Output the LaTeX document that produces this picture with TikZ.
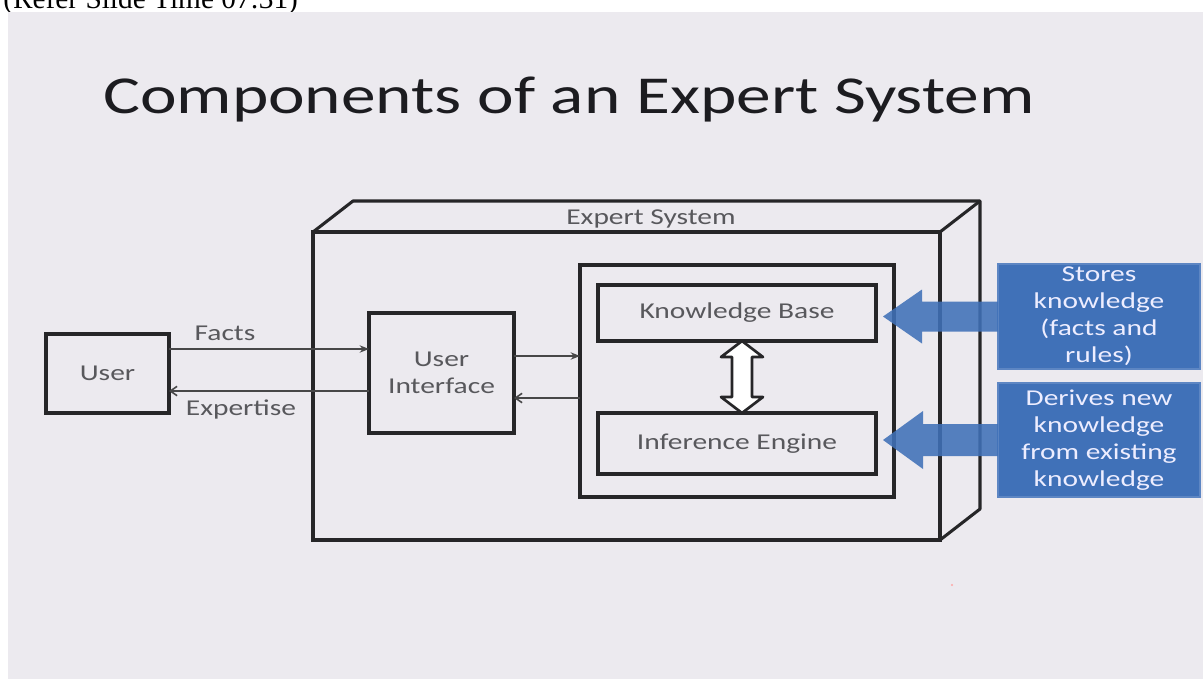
\documentclass[tikz,border=0pt]{standalone}
\usepackage{fontspec}
\setmainfont{Carlito}[FakeStretch=1.3]
\newfontfamily\captionserif{Liberation Serif}
\usetikzlibrary{arrows.meta,calc}

\definecolor{slidebg}{RGB}{236,234,239}
\definecolor{boxline}{RGB}{38,38,40}
\definecolor{labelgray}{RGB}{88,88,92}
\definecolor{titleink}{RGB}{28,28,32}
\definecolor{calloutblue}{RGB}{64,113,184}

\begin{document}
\begin{tikzpicture}[x=0.75pt,y=-0.75pt,
  box/.style={draw=boxline, line width=2.3pt, outer sep=0pt, inner sep=0pt,
    align=center, text=labelgray, font=\fontsize{17}{20.4}\selectfont},
  frame3d/.style={draw=boxline, line width=2.3pt, line join=round},
  lbl/.style={inner sep=0pt, text=labelgray, font=\fontsize{17}{20.4}\selectfont},
  flow/.style={draw=boxline!85, line width=1.2pt},
  fwd/.style={flow, -{Stealth[length=7pt,width=5.5pt]}},
  back/.style={flow, -{Straight Barb[length=5pt,width=7pt]}},
  callout/.style={fill=calloutblue, draw=calloutblue!85!white, line width=0.8pt,
    inner sep=0pt, outer sep=0pt, align=center, text=white!93!blue,
    font=\fontsize{17}{20.25}\selectfont},
  bluearrow/.style={fill=calloutblue, fill opacity=0.88}
]
\useasboundingbox (0,0) rectangle (1203,679);

% caption strip above the slide
\node[anchor=base west, inner sep=0pt, font=\captionserif\fontsize{22}{26}\selectfont]
  (refer) at (3,8.5) {(Refer Slide Time 07:31)};
\fill[slidebg] (8,12) rectangle (1203,679);

% title
\node[anchor=base, inner sep=0pt, text=titleink, font=\fontsize{40}{48}\selectfont]
  (title) at (569,113) {Components of an Expert System};

% the expert system drawn as a 3D box
\node[box, minimum width=470.25pt, minimum height=231pt] (esf) at (626.5,386) {};
\draw[frame3d] (esf.north west) -- ++(40,-31) coordinate (bnw) -- ++(627,0) coordinate (bne)
  -- ++(0,308) coordinate (bse) -- (esf.south east);
\draw[frame3d] (esf.north east) -- (bne);
\node[lbl] (eslabel) at (651,219) {Expert System};

% user and user interface
\node[box, minimum width=92.25pt, minimum height=59.25pt] (user) at (107.5,373.5) {User};
\node[box, minimum width=108.75pt, minimum height=90pt] (ui) at (441.5,373) {User\\Interface};

% core: knowledge base and inference engine
\node[box, minimum width=235.5pt, minimum height=174pt] (core) at (737,381) {};
\node[box, minimum width=208.5pt, minimum height=42pt] (kb) at (737,313) {Knowledge Base};
\node[box, minimum width=208.5pt, minimum height=45.75pt] (ie) at (737,443.5) {Inference Engine};

% hollow two-way arrow between them
\draw[frame3d, fill=white, line width=2pt]
  ($(kb.south)+(5,0)$) -- ++(21,16) -- ++(-11,0) -- ++(0,40) -- ++(11,0)
  -- ++(-21,16) -- ++(-21,-16) -- ++(11,0) -- ++(0,-40) -- ++(-11,0) -- cycle;

% message flows
\coordinate (factsY) at (0,349);
\coordinate (expY) at (0,391);
\coordinate (inY) at (0,356);
\coordinate (outY) at (0,398);
\draw[fwd] (user.east |- factsY) -- (ui.west |- factsY);
\draw[back] (ui.west |- expY) -- (user.east |- expY);
\draw[fwd] (ui.east |- inY) -- (core.west |- inY);
\draw[back] (core.west |- outY) -- (ui.east |- outY);
\node[lbl] (facts) at (225,333) {Facts};
\node[lbl] (expertise) at (241,409) {Expertise};

% blue callouts
\node[callout, minimum width=151.5pt, minimum height=78.75pt] (s1) at (1099,316.5)
  {Stores\\knowledge\\(facts and\\rules)};
\node[callout, minimum width=151.5pt, minimum height=85.5pt] (s2) at (1099,440)
  {Derives new\\knowledge\\from existing\\knowledge};
\fill[bluearrow] (s1.west) ++(0,-15) -- ++(-76,0) -- ++(0,-12) -- ++(-39,27)
  -- ++(39,27) -- ++(0,-12) -- ++(76,0) -- cycle;
\fill[bluearrow] (s2.west) ++(0,-16) -- ++(-75,0) -- ++(0,-13) -- ++(-40,29)
  -- ++(40,29) -- ++(0,-13) -- ++(75,0) -- cycle;

% small speck on the slide
\fill[red!35] (952,585) circle (1.2);
\end{tikzpicture}
\end{document}
